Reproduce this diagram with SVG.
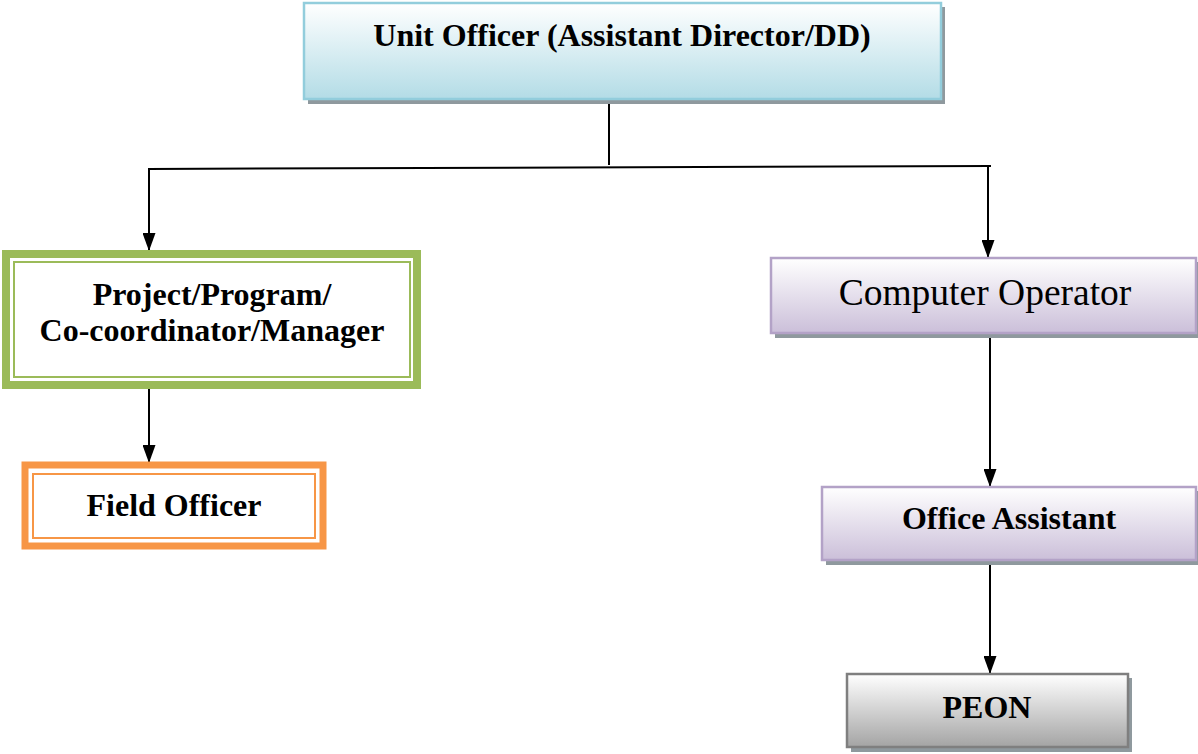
<svg xmlns="http://www.w3.org/2000/svg" width="1198" height="754" viewBox="0 0 1198 754">
  <defs>
    <linearGradient id="gBlue" x1="0" y1="0" x2="0" y2="1">
      <stop offset="0" stop-color="#ffffff"/>
      <stop offset="1" stop-color="#b3dce6"/>
    </linearGradient>
    <linearGradient id="gPurple" x1="0" y1="0" x2="0" y2="1">
      <stop offset="0" stop-color="#ffffff"/>
      <stop offset="1" stop-color="#cbbfd9"/>
    </linearGradient>
    <linearGradient id="gGray" x1="0" y1="0" x2="0" y2="1">
      <stop offset="0" stop-color="#ffffff"/>
      <stop offset="1" stop-color="#a4a4a4"/>
    </linearGradient>
    <marker id="arrow" viewBox="0 0 10 10" refX="10" refY="5" markerWidth="18" markerHeight="13" markerUnits="userSpaceOnUse" orient="auto" preserveAspectRatio="none">
      <path d="M0,0 L10,5 L0,10 Z" fill="#000"/>
    </marker>
    <style>
      .lbl { font-family: "Liberation Serif", "Times New Roman", serif; font-weight: bold; font-size: 32px; fill: #000; text-anchor: middle; }
      .lblReg { font-family: "Liberation Serif", "Times New Roman", serif; font-size: 37.5px; fill: #000; text-anchor: middle; }
      .shadow { fill: #8f999e; }
      .conn { stroke: #000; stroke-width: 2; fill: none; }
    </style>
  </defs>

  <!-- connectors -->
  <g id="connectors">
    <line class="conn" x1="609" y1="99" x2="609" y2="165"/>
    <line class="conn" x1="148" y1="169" x2="991" y2="166"/>
    <line class="conn" x1="149" y1="169" x2="149" y2="251" marker-end="url(#arrow)"/>
    <line class="conn" x1="988" y1="166" x2="988" y2="258" marker-end="url(#arrow)"/>
    <line class="conn" x1="149" y1="389" x2="149" y2="463" marker-end="url(#arrow)"/>
    <line class="conn" x1="990" y1="333" x2="990" y2="487" marker-end="url(#arrow)"/>
    <line class="conn" x1="990" y1="561" x2="990" y2="674" marker-end="url(#arrow)"/>
  </g>

  <!-- Unit Officer -->
  <g id="unit-officer">
    <rect class="shadow" x="308" y="7" width="637" height="97"/>
    <rect x="304" y="3" width="637" height="96" fill="url(#gBlue)" stroke="#92cddc" stroke-width="2.5"/>
    <text class="lbl" x="622" y="46">Unit Officer (Assistant Director/DD)</text>
  </g>

  <!-- Project / Program manager -->
  <g id="project-manager">
    <rect x="6" y="254" width="411" height="131" fill="#ffffff" stroke="#9bbb59" stroke-width="8"/>
    <rect x="14" y="262" width="396" height="115" fill="none" stroke="#9bbb59" stroke-width="2"/>
    <text class="lbl" x="212" y="305">Project/Program/</text>
    <text class="lbl" x="212" y="341">Co-coordinator/Manager</text>
  </g>

  <!-- Field Officer -->
  <g id="field-officer">
    <rect x="25" y="465" width="298" height="81" fill="#ffffff" stroke="#f79646" stroke-width="7"/>
    <rect x="33" y="474" width="282" height="64" fill="none" stroke="#f79646" stroke-width="2"/>
    <text class="lbl" x="174" y="516">Field Officer</text>
  </g>

  <!-- Computer Operator -->
  <g id="computer-operator">
    <rect class="shadow" x="775" y="262" width="425" height="76"/>
    <rect x="771" y="258" width="425" height="75" fill="url(#gPurple)" stroke="#b3a2c7" stroke-width="2.5"/>
    <text class="lblReg" x="985" y="305">Computer Operator</text>
  </g>

  <!-- Office Assistant -->
  <g id="office-assistant">
    <rect class="shadow" x="826" y="491" width="374" height="74"/>
    <rect x="822" y="487" width="374" height="73" fill="url(#gPurple)" stroke="#b3a2c7" stroke-width="2.5"/>
    <text class="lbl" x="1009" y="529">Office Assistant</text>
  </g>

  <!-- PEON -->
  <g id="peon">
    <rect class="shadow" x="851" y="678" width="281" height="74"/>
    <rect x="847" y="674" width="281" height="73" fill="url(#gGray)" stroke="#7f7f7f" stroke-width="2.5"/>
    <text class="lbl" x="987" y="718">PEON</text>
  </g>
</svg>
